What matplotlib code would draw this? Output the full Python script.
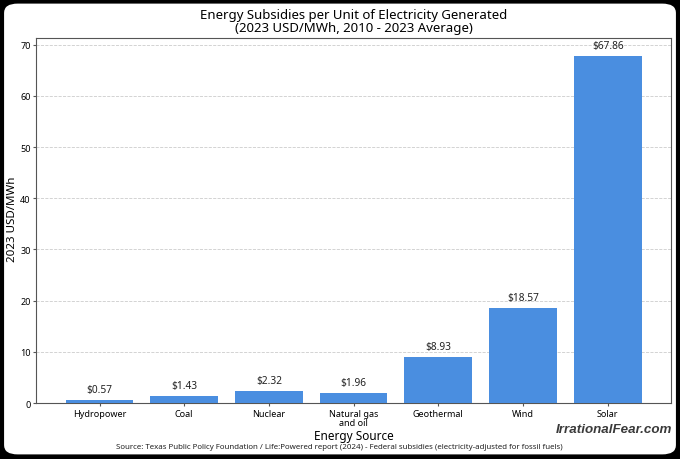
import matplotlib.pyplot as plt
from matplotlib.patches import FancyBboxPatch

plt.rcParams['font.family'] = ['Noto Sans', 'DejaVu Sans']

# data
sources = ['Hydropower', 'Coal', 'Nuclear', 'Natural gas\nand oil', 'Geothermal', 'Wind', 'Solar']
subsidy = [0.57, 1.43, 2.32, 1.96, 8.93, 18.57, 67.86]

fig = plt.figure(figsize=(6.8, 4.6), dpi=100, facecolor='black')

# white card with rounded corners
card = FancyBboxPatch((0.006, 0.01), 0.988, 0.98, boxstyle='round,pad=0,rounding_size=0.02',
                      transform=fig.transFigure, facecolor='white', edgecolor='none', zorder=-5)
fig.patches.append(card)

ax = fig.add_axes([0.053, 0.1217, 0.934, 0.7933])
ax.set_facecolor('white')
x = range(len(sources))
bars = ax.bar(x, subsidy, width=0.8, color='#4a8ee0', zorder=3)

for b, v in zip(bars, subsidy):
    ax.annotate(f'${v:.2f}', (b.get_x() + b.get_width() / 2, v), xytext=(0, 3.5),
                textcoords='offset points', ha='center', va='bottom',
                fontsize=7.3, color='#222222')

ax.set_xticks(list(x))
ax.set_xticklabels(sources, fontsize=6.5, linespacing=1.0)
ax.tick_params(axis='y', labelsize=6.5, pad=1.5)
ax.tick_params(length=2.5, color='#555555')
ax.tick_params(axis='x', pad=2)
ax.set_xlim(-0.75, 6.75)
ax.set_ylim(0, 71.3)
ax.grid(axis='y', linestyle='--', color='#cccccc', linewidth=0.6, zorder=0)
for s in ax.spines.values():
    s.set_color('#555555')
    s.set_linewidth(0.8)

fig.text(12.5 / 680, 0.524, '2023 USD/MWh', rotation=90, ha='center', va='center', fontsize=8.3)
ax.set_xlabel('Energy Source', fontsize=8.5, labelpad=1)
ax.set_title('Energy Subsidies per Unit of Electricity Generated\n(2023 USD/MWh, 2010 - 2023 Average)',
             fontsize=9.5, linespacing=1.05, pad=5)

fig.text(0.499, 0.027, 'Source: Texas Public Policy Foundation / Life:Powered report (2024) - '
         'Federal subsidies (electricity-adjusted for fossil fuels)',
         ha='center', va='center', fontsize=5.7, color='#222222')
fig.text(0.988, 0.066, 'IrrationalFear.com', ha='right', va='center', fontsize=9.6,
         style='italic', fontweight='bold', color='#3a3a3a', family=['Liberation Sans', 'DejaVu Sans'])

fig.savefig('out.png', dpi=100, facecolor='black')
